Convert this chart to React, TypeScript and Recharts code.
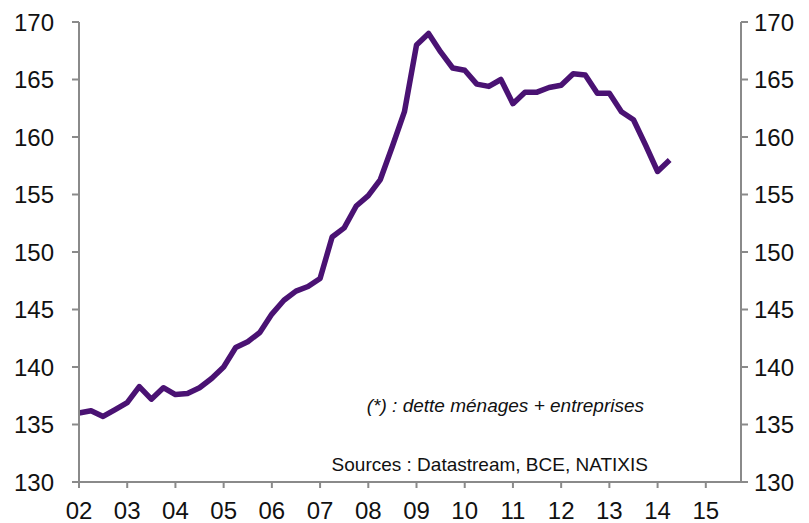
import { LineChart, Line, XAxis, YAxis } from "recharts";

// quarterly values, starting 2002 Q1
const startYear = 2002;
const debtRatio = [
  136.0, 136.2, 135.7, 136.3, 136.9, 138.3, 137.2, 138.2,
  137.6, 137.7, 138.2, 139.0, 140.0, 141.7, 142.2, 143.0,
  144.6, 145.8, 146.6, 147.0, 147.7, 151.3, 152.1, 154.0,
  154.9, 156.3, 159.2, 162.2, 168.0, 169.0, 167.4, 166.0,
  165.8, 164.6, 164.4, 165.0, 162.9, 163.9, 163.9, 164.3,
  164.5, 165.5, 165.4, 163.8, 163.8, 162.2, 161.5, 159.3,
  157.0, 158.0,
];
const yearTicks = [2002, 2003, 2004, 2005, 2006, 2007, 2008, 2009, 2010, 2011, 2012, 2013, 2014, 2015];
const valueTicks = [130, 135, 140, 145, 150, 155, 160, 165, 170];
const noteText = "(*) : dette ménages + entreprises";
const sourceText = "Sources : Datastream, BCE, NATIXIS";

const data = debtRatio.map((v, i) => ({ t: startYear + i * 0.25, v }));

const axisColor = "#8a8a8a";
const font = "Liberation Sans, Arial, sans-serif";
const tickStyle = { fill: "#111", fontSize: 24, fontFamily: font };

export default function App() {
  return (
    <div style={{ position: "absolute", left: 0, top: 0, width: 809, height: 523, background: "#fff" }}>
      <LineChart width={809} height={523} data={data} margin={{ top: 22, right: 0, bottom: 0, left: 0 }}>
        <XAxis
          dataKey="t"
          type="number"
          domain={[2002, 2015.73]}
          ticks={yearTicks}
          tickFormatter={(y: number) => String(y).slice(2)}
          height={41}
          stroke={axisColor}
          strokeWidth={2}
          tickSize={6}
          tickMargin={14}
          tick={tickStyle}
          interval={0}
        />
        <YAxis
          yAxisId="left"
          orientation="left"
          domain={[130, 170]}
          ticks={valueTicks}
          width={79}
          stroke={axisColor}
          strokeWidth={2}
          tickSize={7}
          tickMargin={18}
          tick={tickStyle}
          interval={0}
        />
        <YAxis
          yAxisId="right"
          orientation="right"
          domain={[130, 170]}
          ticks={valueTicks}
          width={68}
          stroke={axisColor}
          strokeWidth={2}
          tickSize={7}
          tickMargin={6}
          tick={tickStyle}
          interval={0}
        />
        {/* same series on the right axis, hidden, so the right scale is drawn */}
        <Line
          yAxisId="right"
          type="linear"
          dataKey="v"
          stroke="none"
          dot={false}
          activeDot={false}
          isAnimationActive={false}
        />
        <Line
          yAxisId="left"
          type="linear"
          dataKey="v"
          stroke="#4a1273"
          strokeWidth={5.5}
          strokeLinejoin="round"
          dot={false}
          isAnimationActive={false}
        />
      </LineChart>
      <div
        style={{
          position: "absolute",
          right: 809 - 644,
          top: 395,
          fontSize: 19,
          fontStyle: "italic",
          fontFamily: font,
          color: "#111",
          whiteSpace: "nowrap",
        }}
      >
        {noteText}
      </div>
      <div
        style={{
          position: "absolute",
          right: 809 - 648,
          top: 454,
          fontSize: 19,
          fontFamily: font,
          color: "#111",
          whiteSpace: "nowrap",
        }}
      >
        {sourceText}
      </div>
    </div>
  );
}
